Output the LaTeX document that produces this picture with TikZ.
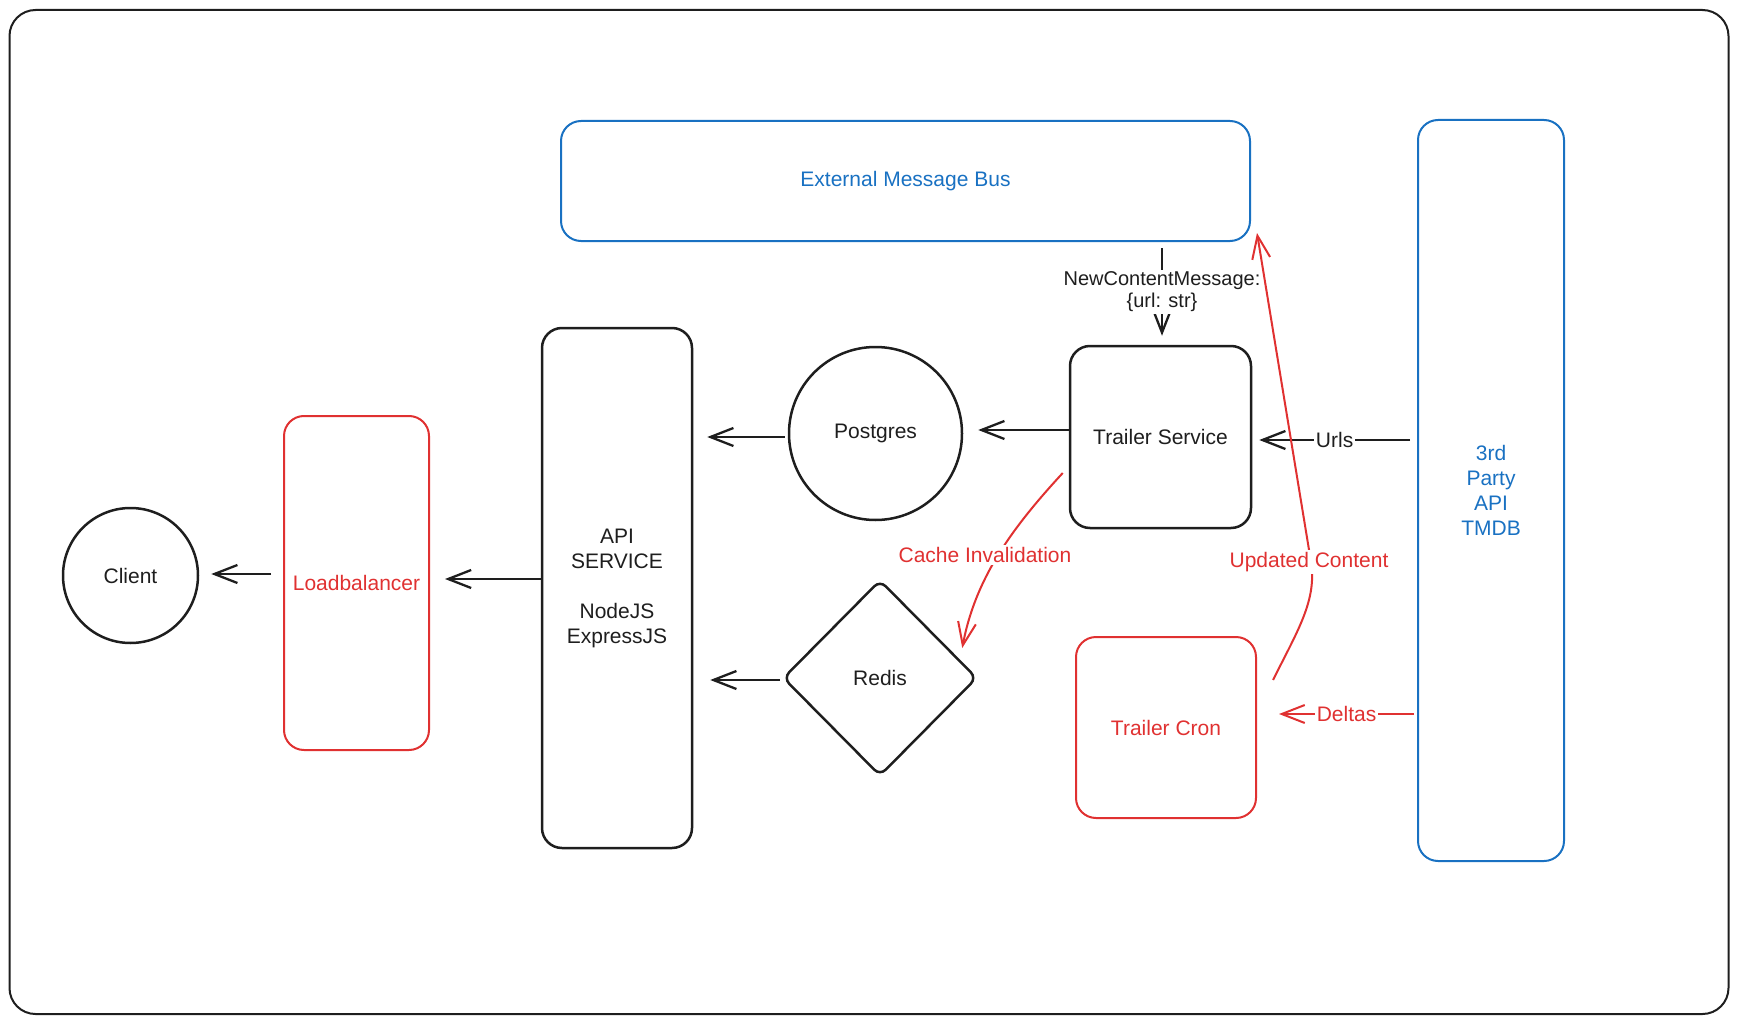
\documentclass[tikz,border=0pt]{standalone}
\usepackage{fontspec}
\setmainfont{Liberation Sans}
\usetikzlibrary{arrows.meta,calc,shapes.geometric}
\definecolor{ink}{HTML}{1E1E1E}
\definecolor{exred}{HTML}{E03131}
\definecolor{exblue}{HTML}{1971C2}
\tikzset{
  txt/.style={font=\fontsize{21}{25}\selectfont},
  box/.style={txt, draw, line width=2pt, rounded corners=20pt, inner sep=0pt, align=center},
  blackbox/.style={box, draw=ink, text=ink, line width=2.5pt},
  redbox/.style={box, draw=exred, text=exred},
  bluebox/.style={box, draw=exblue, text=exblue},
  conn/.style={line width=2.3pt, -{Straight Barb[length=23pt,width=18pt]}},
  lab/.style={txt, fill=white, inner sep=2pt, align=center},
}
\begin{document}
\begin{tikzpicture}[x=1pt,y=-1pt]
\useasboundingbox (0,0) rectangle (1738,1022);
\node[draw=ink, line width=2pt, rounded corners=26pt, minimum width=1719pt, minimum height=1004pt, inner sep=0pt] (frame) at (869,512) {};
\node[bluebox, minimum width=689pt, minimum height=120pt] (bus) at (905.5,181) {External Message Bus};
\node[bluebox, minimum width=146pt, minimum height=741pt] (tmdb) at (1491,490.5) {3rd\\Party\\API\\TMDB};
\node[blackbox, minimum width=181pt, minimum height=182pt] (trailer) at (1160.5,437) {Trailer Service};
\node[redbox, minimum width=180pt, minimum height=181pt] (cron) at (1166,727.5) {Trailer Cron};
\node[blackbox, circle, minimum size=173pt] (pg) at (875.5,433.5) {Postgres};
\node[blackbox, minimum width=150pt, minimum height=520pt] (api) at (617,588) {API\\SERVICE\\[25pt]NodeJS\\ExpressJS};
\node[redbox, minimum width=145pt, minimum height=334pt] (lb) at (356.5,583) {Loadbalancer};
\node[blackbox, circle, minimum size=135pt] (client) at (130.5,575.5) {Client};
\node[blackbox, diamond, rounded corners=8pt, minimum width=194pt, minimum height=196pt] (redis) at (880,678) {Redis};

\draw[conn, ink] (trailer.west |- 0,430) -- ($(pg.east |- 0,430)+(15,0)$);
\draw[conn, ink] ($(pg.west |- 0,437)+(-3,0)$) -- ($(api.east |- 0,437)+(14,0)$);
\draw[conn, ink] ($(redis.west)+(-2,2)$) -- ($(api.east |- 0,680)+(17,0)$);
\draw[conn, ink] (api.west |- 0,579) -- ($(lb.east |- 0,579)+(15,0)$);
\draw[conn, ink] ($(lb.west |- 0,574)+(-12,0)$) -- ($(client.east |- 0,574)+(12,0)$);
\draw[conn, ink] ($(tmdb.west |- 0,440)+(-7,0)$) -- node[lab, text=ink]{Urls} ($(trailer.east |- 0,440)+(7,0)$);
\draw[conn, exred, line width=2pt] ($(tmdb.west |- 0,714)+(-3,0)$) -- node[lab, text=exred]{Deltas} ($(cron.east |- 0,714)+(22,0)$);
\draw[conn, ink] ($(bus.south -| trailer.north)+(1.5,6)$) -- node[lab, text=ink, font=\fontsize{20}{22}\selectfont]{NewContentMessage:\\\{url: str\}} ($(trailer.north)+(1.5,-9)$);

\draw[conn, exred, line width=2pt] ($(trailer.west)+(-6,36)$) .. controls (1010,530) and (975,580) .. ($(redis.east)+(-16,-30)$);
\node[lab, text=exred] (cilab) at (985,555) {Cache Invalidation};
\draw[conn, exred, line width=2pt] ($(cron.east)+(16,-47.5)$) .. controls (1298,630) and (1317,600) .. (1311,562) -- ($(bus.south east)+(6,-9)$);
\node[lab, text=exred] (uclab) at (1309,562) {Updated Content};
\end{tikzpicture}
\end{document}
